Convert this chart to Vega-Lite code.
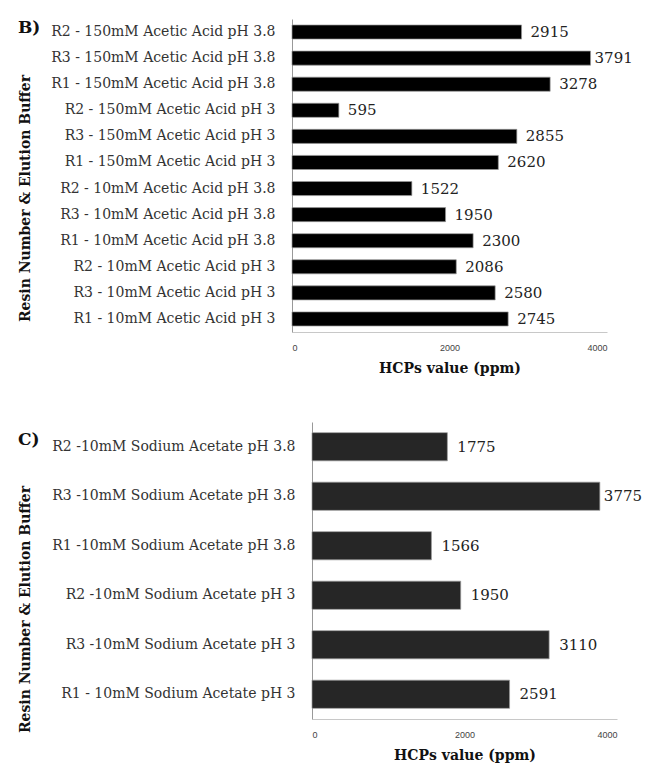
{
  "$schema": "https://vega.github.io/schema/vega-lite/v6.json",
  "background": "white",
  "padding": {"left": 18, "top": 19, "right": 5, "bottom": 5},
  "spacing": 47,
  "datasets": {
    "b": [
      {"label": "R2 - 150mM Acetic Acid pH 3.8", "v": 2915},
      {"label": "R3 - 150mM Acetic Acid pH 3.8", "v": 3791},
      {"label": "R1 - 150mM Acetic Acid pH 3.8", "v": 3278},
      {"label": "R2 - 150mM Acetic Acid pH 3", "v": 595},
      {"label": "R3 - 150mM Acetic Acid pH 3", "v": 2855},
      {"label": "R1 - 150mM Acetic Acid pH 3", "v": 2620},
      {"label": "R2 - 10mM Acetic Acid pH 3.8", "v": 1522},
      {"label": "R3 - 10mM Acetic Acid pH 3.8", "v": 1950},
      {"label": "R1 - 10mM Acetic Acid pH 3.8", "v": 2300},
      {"label": "R2 - 10mM Acetic Acid pH 3", "v": 2086},
      {"label": "R3 - 10mM Acetic Acid pH 3", "v": 2580},
      {"label": "R1 - 10mM Acetic Acid pH 3", "v": 2745}
    ],
    "c": [
      {"label": "R2 -10mM Sodium Acetate pH 3.8", "v": 1775},
      {"label": "R3 -10mM Sodium Acetate pH 3.8", "v": 3775},
      {"label": "R1 -10mM Sodium Acetate pH 3.8", "v": 1566},
      {"label": "R2 -10mM Sodium Acetate pH 3", "v": 1950},
      {"label": "R3 -10mM Sodium Acetate pH 3", "v": 3110},
      {"label": "R1 - 10mM Sodium Acetate pH 3", "v": 2591}
    ]
  },
  "config": {
    "view": {"stroke": null},
    "font": "DejaVu Serif",
    "axis": {"grid": false, "ticks": false, "labelFont": "DejaVu Serif", "titleFont": "DejaVu Serif", "titleFontWeight": "bold", "titleColor": "#111"},
    "axisX": {"labelFont": "Liberation Sans", "labelFontSize": 9, "labelColor": "#444", "labelPadding": 11, "domainColor": "#c8c8c8", "titleFontSize": 14, "titlePadding": 9, "format": "d"},
    "axisY": {"labelFontSize": 14, "labelColor": "#333", "labelPadding": 17, "domainColor": "#999", "titleFontSize": 14, "labelLimit": 400}
  },
  "vconcat": [
    {
      "title": {"text": "B)", "anchor": "start", "frame": "bounds", "orient": "top", "offset": -18, "fontSize": 17, "fontWeight": "bold", "font": "DejaVu Serif", "color": "#111"},
      "width": 315,
      "height": 313,
      "data": {"name": "b"},
      "encoding": {
        "y": {"field": "label", "type": "nominal", "sort": null, "title": "Resin Number & Elution Buffer", "scale": {"paddingInner": 0.46, "paddingOuter": 0.23}, "axis": {"titleX": -260, "titleY": 179}},
        "x": {"field": "v", "type": "quantitative", "title": "HCPs value (ppm)", "scale": {"domain": [0, 4000]}, "axis": {"values": [0, 2000, 4000]}}
      },
      "layer": [
        {"mark": {"type": "bar", "color": "#000", "stroke": "#999", "strokeWidth": 0.7}},
        {"transform": [{"filter": "datum.v < 3700"}], "mark": {"type": "text", "align": "left", "dx": 9, "fontSize": 15, "color": "#222"}, "encoding": {"text": {"field": "v", "type": "quantitative"}}},
        {"transform": [{"filter": "datum.v >= 3700"}], "mark": {"type": "text", "align": "left", "dx": 4, "fontSize": 15, "color": "#222"}, "encoding": {"text": {"field": "v", "type": "quantitative"}}}
      ]
    },
    {
      "title": {"text": "C)", "anchor": "start", "frame": "bounds", "orient": "top", "offset": -27, "fontSize": 17, "fontWeight": "bold", "font": "DejaVu Serif", "color": "#111"},
      "width": 325,
      "height": 297,
      "data": {"name": "c"},
      "encoding": {
        "y": {"field": "label", "type": "nominal", "sort": null, "title": "Resin Number & Elution Buffer", "scale": {"paddingInner": 0.43, "paddingOuter": 0.215}, "axis": {"offset": -20, "titleX": -280, "titleY": 187}},
        "x": {"field": "v", "type": "quantitative", "title": "HCPs value (ppm)", "scale": {"domain": [0, 4000], "range": [20, 325]}, "axis": {"values": [0, 2000, 4000]}}
      },
      "layer": [
        {"mark": {"type": "bar", "color": "#262626", "stroke": "#999", "strokeWidth": 0.7}},
        {"transform": [{"filter": "datum.v < 3700"}], "mark": {"type": "text", "align": "left", "dx": 10, "fontSize": 15, "color": "#222"}, "encoding": {"text": {"field": "v", "type": "quantitative"}}},
        {"transform": [{"filter": "datum.v >= 3700"}], "mark": {"type": "text", "align": "left", "dx": 4, "fontSize": 15, "color": "#222"}, "encoding": {"text": {"field": "v", "type": "quantitative"}}}
      ]
    }
  ]
}
